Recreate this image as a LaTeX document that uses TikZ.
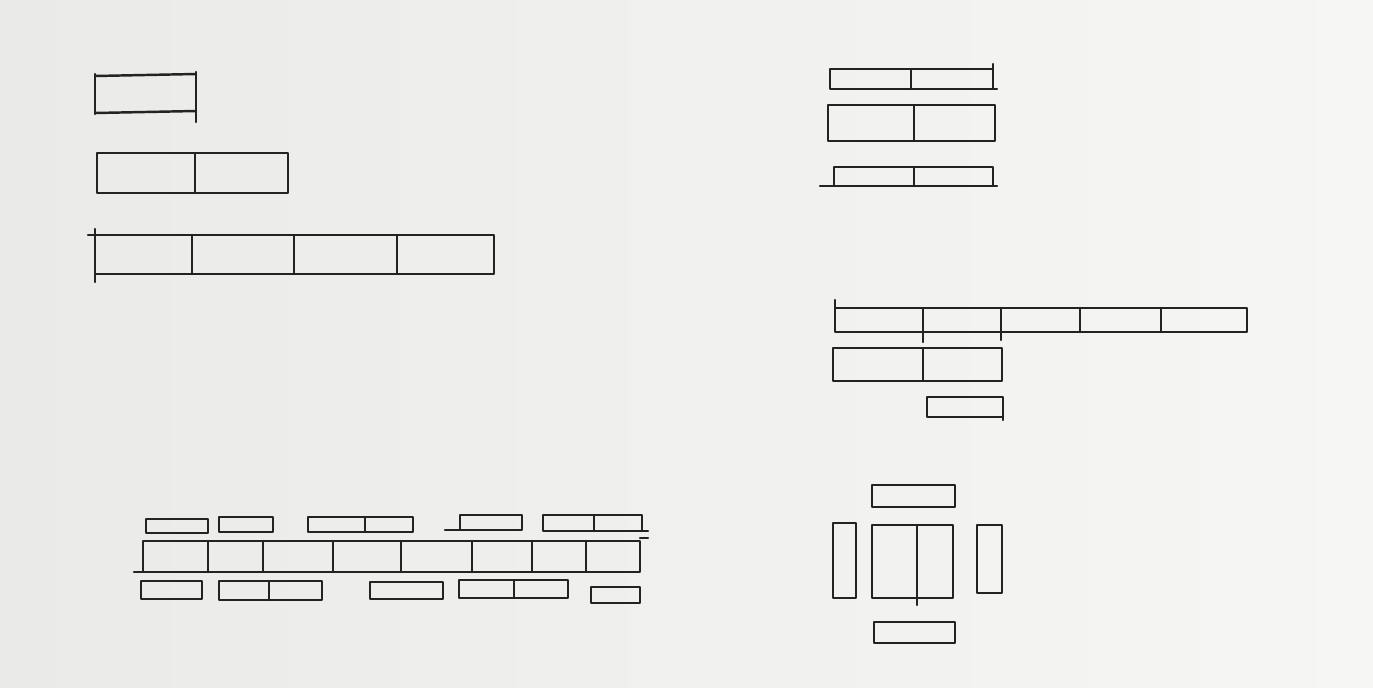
\documentclass[tikz,border=0pt]{standalone}
\definecolor{paperL}{RGB}{234,234,232}
\definecolor{paperR}{RGB}{246,246,244}
\definecolor{ink}{RGB}{35,35,35}
\tikzset{pen/.style={draw=ink,line width=1.4pt,line cap=round,line join=round}}
\newcommand\sketchbox[4]{\draw[pen] (#1,#3) rectangle (#2,#4);}
\newcommand\cellrow[5]{\draw[pen] (#1,#3) rectangle (#2,#4);
  \foreach \d in {#5} {\draw[pen] (\d,#3) -- (\d,#4);}}
\begin{document}
\begin{tikzpicture}[x=0.02cm,y=-0.02cm]
\useasboundingbox (0,0) rectangle (1373,687);
\shade[left color=paperL,right color=paperR] (0,0) rectangle (1373,687);
% ---- top left ----
\draw[pen] (95,76) -- (196,74);
\draw[pen] (95,113) -- (196,111);
\draw[pen] (95,74) -- (95,114);
\draw[pen] (196,72) -- (196,122);
\cellrow{97}{288}{153}{193}{195}
\cellrow{95}{494}{235}{274}{192,294,397}
\draw[pen] (95,229) -- (95,282);
\draw[pen] (88,235) -- (95,235);
% ---- top right ----
\cellrow{830}{993}{69}{89}{911}
\draw[pen] (993,89) -- (997,89);
\draw[pen] (993,64) -- (993,80);
\cellrow{828}{995}{105}{141}{914}
\cellrow{834}{993}{167}{186}{914}
\draw[pen] (820,186) -- (997,186);
% ---- middle right ----
\cellrow{835}{1247}{308}{332}{923,1001,1080,1161}
\draw[pen] (835,300) -- (835,308);
\draw[pen] (923,332) -- (923,342);
\draw[pen] (1001,332) -- (1001,340);
\cellrow{833}{1002}{348}{381}{923}
\sketchbox{927}{1003}{397}{417}
\draw[pen] (1003,417) -- (1003,420);
% ---- bottom right ----
\sketchbox{872}{955}{485}{507}
\sketchbox{833}{856}{523}{598}
\cellrow{872}{953}{525}{598}{917}
\draw[pen] (917,598) -- (917,605);
\sketchbox{977}{1002}{525}{593}
\sketchbox{874}{955}{622}{643}
% ---- bottom left ----
\sketchbox{146}{208}{519}{533}
\sketchbox{219}{273}{517}{532}
\cellrow{308}{413}{517}{532}{365}
\sketchbox{460}{522}{515}{530}
\draw[pen] (445,530) -- (460,530);
\cellrow{543}{642}{515}{531}{594}
\draw[pen] (642,531) -- (648,531);
\cellrow{143}{640}{541}{572}{208,263,333,401,472,532,586}
\draw[pen] (134,572) -- (143,572);
\draw[pen] (640,538) -- (648,538);
\sketchbox{141}{202}{581}{599}
\cellrow{219}{322}{581}{600}{269}
\sketchbox{370}{443}{582}{599}
\cellrow{459}{568}{580}{598}{514}
\sketchbox{591}{640}{587}{603}
\end{tikzpicture}
\end{document}
